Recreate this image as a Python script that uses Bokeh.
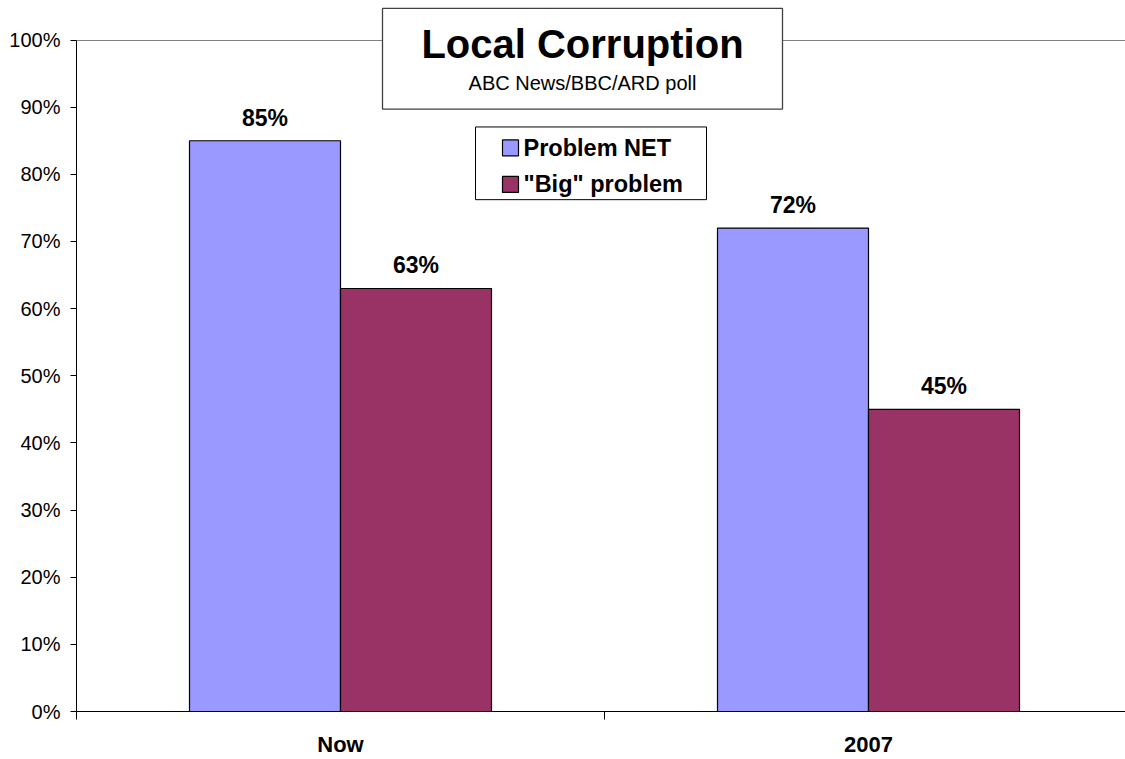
from bokeh.plotting import figure
from bokeh.models import ColumnDataSource, FixedTicker, Range1d, LabelSet
from bokeh.embed import file_html
from bokeh.resources import INLINE
from bokeh.core.properties import value

# ---------------- data ----------------
categories = ["Now", "2007"]
problem_net = [85, 72]
big_problem = [63, 45]
series_names = ["Problem NET", '"Big" problem']
series_colors = ["#9999FF", "#993366"]
y_ticks = [0, 10, 20, 30, 40, 50, 60, 70, 80, 90, 100]
y_tick_labels = ["0%", "10%", "20%", "30%", "40%", "50%", "60%", "70%", "80%", "90%", "100%"]
title_text = "Local Corruption"
subtitle_text = "ABC News/BBC/ARD poll"

# ---------------- layout constants ----------------
FONT = "Liberation Sans"
W, H = 1125, 759
LEFT = 76
FRAME_H = 714
BOTTOM = H - FRAME_H
CAT_PX = 528.0
PX_PER_PCT = 6.743
x_end = (W - LEFT) / CAT_PX
y_end = FRAME_H / PX_PER_PCT


def dx(page_x):
    return (page_x - 76) / CAT_PX


def dy(page_y):
    return (714 - page_y) / PX_PER_PCT


p = figure(width=W, height=H, x_range=Range1d(0, x_end), y_range=Range1d(0, y_end),
           output_backend="svg", toolbar_location=None,
           min_border_left=LEFT, min_border_right=0, min_border_top=0,
           min_border_bottom=BOTTOM, outline_line_color=None,
           background_fill_color="white", border_fill_color="white")


def add_text(x, y, text, size, bold=False, align="left"):
    s = ColumnDataSource(dict(x=[x], y=[y], t=[text]))
    p.add_layout(LabelSet(x="x", y="y", text="t", source=s,
                          text_align=align, text_baseline="alphabetic",
                          text_font=value(FONT), text_font_size=size,
                          text_font_style="bold" if bold else "normal",
                          text_color="black"))


# ---------------- bars ----------------
BW = 151 / CAT_PX
centers = [i + 0.5 for i in range(len(categories))]
src = ColumnDataSource(dict(
    cat=categories,
    xc=centers,
    x1=[c - BW / 2 for c in centers],
    x2=[c + BW / 2 for c in centers],
    v1=problem_net,
    v2=big_problem,
    l1=[f"{v}%" for v in problem_net],
    l2=[f"{v}%" for v in big_problem],
))

p.vbar(x="x1", top="v1", bottom=0, width=BW, fill_color=series_colors[0],
       line_color="black", line_width=1.2, source=src)
p.vbar(x="x2", top="v2", bottom=0, width=BW, fill_color=series_colors[1],
       line_color="black", line_width=1.2, source=src)

for xk, vk, lk in (("x1", "v1", "l1"), ("x2", "v2", "l2")):
    p.add_layout(LabelSet(x=xk, y=vk, text=lk, source=src, y_offset=15,
                          text_align="center", text_baseline="alphabetic",
                          text_font=value(FONT), text_font_size="23px",
                          text_font_style="bold", text_color="black"))

# ---------------- axes ----------------
p.yaxis.ticker = FixedTicker(ticks=y_ticks)
p.yaxis.major_label_overrides = {t: l for t, l in zip(y_ticks, y_tick_labels)}
p.yaxis.bounds = (0, 100)
p.yaxis.major_tick_out = 6
p.yaxis.major_tick_in = 0
p.yaxis.minor_tick_line_color = None
p.yaxis.major_label_standoff = 10
p.yaxis.major_label_text_font = FONT
p.yaxis.major_label_text_font_size = "20px"
p.yaxis.major_label_text_color = "black"
p.yaxis.axis_line_color = "black"
p.yaxis.major_tick_line_color = "black"

# category labels at centres, boundary ticks as minor ticks
p.xaxis.ticker = FixedTicker(ticks=centers,
                             minor_ticks=[float(i) for i in range(len(categories) + 1)])
p.xaxis.major_label_overrides = {c: cat for c, cat in zip(centers, categories)}
p.xaxis.major_tick_line_color = None
p.xaxis.major_tick_out = 0
p.xaxis.major_tick_in = 0
p.xaxis.minor_tick_out = 8
p.xaxis.minor_tick_in = 0
p.xaxis.minor_tick_line_color = "black"
p.xaxis.major_label_standoff = 12
p.xaxis.major_label_text_font = FONT
p.xaxis.major_label_text_font_size = "22px"
p.xaxis.major_label_text_font_style = "bold"
p.xaxis.major_label_text_color = "black"
p.xaxis.axis_line_color = "black"

p.xgrid.grid_line_color = None
p.ygrid.ticker = FixedTicker(ticks=[100])
p.ygrid.grid_line_color = "#808080"

# ---------------- title box ----------------
p.quad(left=dx(382), right=dx(782), top=dy(8), bottom=dy(109),
       fill_color="white", line_color="#404040", line_width=1.3)
add_text(dx(582), dy(58), title_text, "40px", bold=True, align="center")
add_text(dx(582), dy(90), subtitle_text, "20px", align="center")

# ---------------- legend (manual) ----------------
p.quad(left=dx(475), right=dx(706), top=dy(127), bottom=dy(200),
       fill_color="white", line_color="black", line_width=1)
row_tops = [140, 176.7]
for name, col, rt in zip(series_names, series_colors, row_tops):
    p.quad(left=dx(502), right=dx(518), top=dy(rt), bottom=dy(rt + 16),
           fill_color=col, line_color="black", line_width=1.2)
    add_text(dx(523), dy(rt + 16), name, "23.5px", bold=True)

open("out.html", "w").write(file_html(p, INLINE))
